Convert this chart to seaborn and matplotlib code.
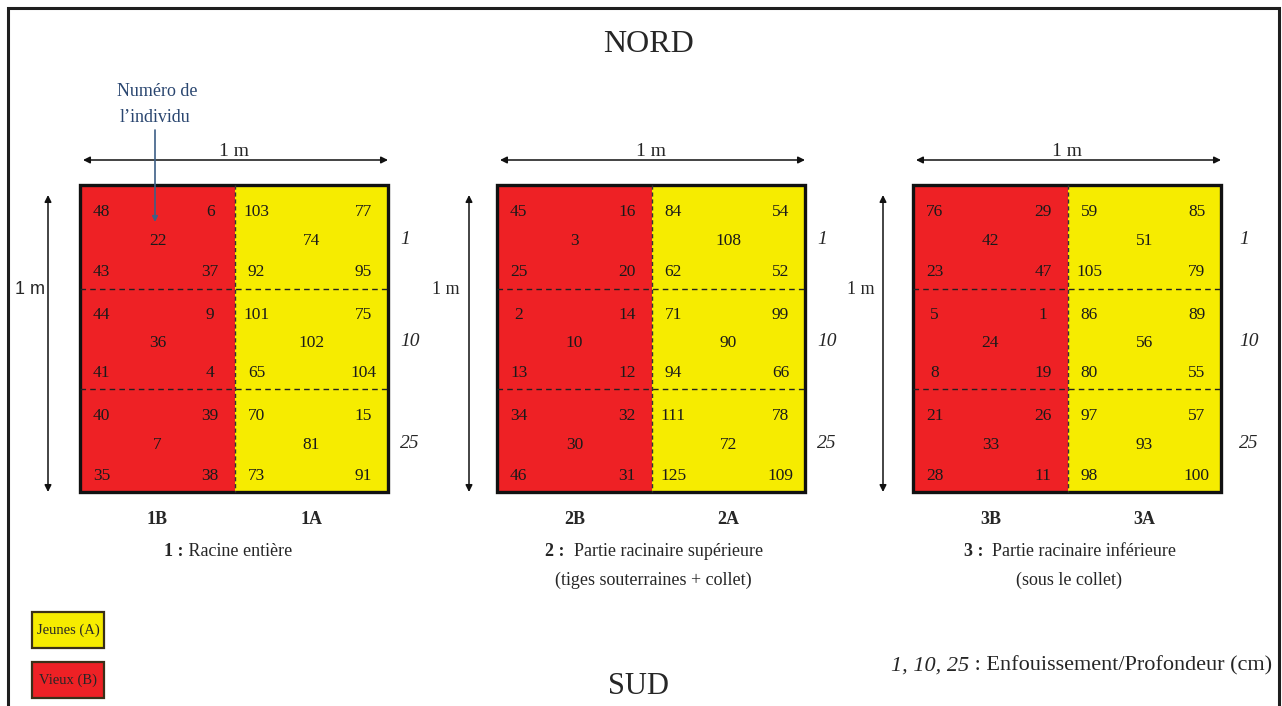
import matplotlib
matplotlib.use("Agg")
import matplotlib.pyplot as plt
import seaborn as sns
from matplotlib.patches import Rectangle

# ---------------- data ----------------
plot_ids = ["1", "2", "3"]
half_labels_B = ["1B", "2B", "3B"]
half_labels_A = ["1A", "2A", "3A"]
depth_labels = ["1", "10", "25"]
captions_bold = ["1 :", "2 :", "3 :"]
captions_line1 = [" Racine entière", "  Partie racinaire supérieure", "  Partie racinaire inférieure"]
captions_line2 = ["", "(tiges souterraines + collet)", "(sous le collet)"]
# each row: [top-left, top-right, centre, bottom-left, bottom-right] per depth (1, 10, 25)
plot1_B = [[48, 6, 22, 43, 37], [44, 9, 36, 41, 4], [40, 39, 7, 35, 38]]
plot1_A = [[103, 77, 74, 92, 95], [101, 75, 102, 65, 104], [70, 15, 81, 73, 91]]
plot2_B = [[45, 16, 3, 25, 20], [2, 14, 10, 13, 12], [34, 32, 30, 46, 31]]
plot2_A = [[84, 54, 108, 62, 52], [71, 99, 90, 94, 66], [111, 78, 72, 125, 109]]
plot3_B = [[76, 29, 42, 23, 47], [5, 1, 24, 8, 19], [21, 26, 33, 28, 11]]
plot3_A = [[59, 85, 51, 105, 79], [86, 89, 56, 80, 55], [97, 57, 93, 98, 100]]
legend_labels = ["Jeunes (A)", "Vieux (B)"]
depth_note = "1, 10, 25"
depth_note_rest = " : Enfouissement/Profondeur (cm)"

# ---------------- style ----------------
sns.set_theme(style="white")
plt.rcParams['font.family'] = ['Liberation Serif', 'DejaVu Serif']
RED = "#ee2125"
YELLOW = "#f6ec00"
W, H = 1282, 706

fig = plt.figure(figsize=(W / 100, H / 100), dpi=100)
ax = fig.add_axes([0, 0, 1, 1])
ax.set_xlim(0, W)
ax.set_ylim(H, 0)
ax.axis("off")

# outer frame (no bottom edge)
ax.plot([8, 8, 1279, 1279], [706, 8, 8, 706], color="#1e1e1e", lw=2.2, solid_joinstyle="miter")

ax.text(649, 45, "NORD", ha="center", va="center", fontsize=23)
ax.text(638, 687, "SUD", ha="center", va="center", fontsize=22)

fig.canvas.draw()
renderer = fig.canvas.get_renderer()


def text_parts(x, y, parts, ha="center"):
    """parts: list of (string, dict of text props). Draw in sequence, aligned."""
    arts = []
    for s, kw in parts:
        t = ax.text(0, y, s, ha="left", va="center", **kw)
        arts.append(t)
    widths = []
    for t in arts:
        bb = t.get_window_extent(renderer=renderer)
        widths.append(bb.width)
    total = sum(widths)
    if ha == "center":
        x0 = x - total / 2
    elif ha == "right":
        x0 = x - total
    else:
        x0 = x
    for t, w in zip(arts, widths):
        t.set_x(x0)
        x0 += w


lefts = [80, 497, 913]
size = 308
half = 155
top = 185
rows = [185, 289, 389, 492]
col_frac = [0.14, 0.84, 0.50, 0.14, 0.84]
row_frac = [0.26, 0.26, 0.54, 0.84, 0.84]
data_B = [plot1_B, plot2_B, plot3_B]
data_A = [plot1_A, plot2_A, plot3_A]
vert_arrow_dx = [32, 28, 30]
one_m_left_x = [30, 446, 861]
depth_dx = [12, 12, 18]

for i, L in enumerate(lefts):
    R = L + size
    mid = L + half
    ax.add_patch(Rectangle((L, top), half, size - 1, facecolor=RED, edgecolor="none"))
    ax.add_patch(Rectangle((mid, top), size - half, size - 1, facecolor=YELLOW, edgecolor="none"))
    # dashed dividers
    for yy in rows[1:3]:
        ax.plot([L, R], [yy, yy], color="#222", lw=1.0, ls=(0, (4, 3)))
    ax.plot([mid, mid], [top, rows[-1]], color="#333", lw=1.0, ls=(0, (3, 2)))
    ax.add_patch(Rectangle((L, top), size, rows[-1] - top, facecolor="none", edgecolor="#111", lw=2.4))

    # numbers
    for half_data, hx, hw in ((data_B[i], L, half), (data_A[i], mid, size - half)):
        for r, row in enumerate(half_data):
            y0, y1 = rows[r], rows[r + 1]
            for k, num in enumerate(row):
                ax.text(hx + col_frac[k] * hw, y0 + row_frac[k] * (y1 - y0), str(num),
                        ha="center", va="center", fontsize=12.5, color="#1a1a1a")
    # depth labels
    for r, lab in enumerate(depth_labels):
        ax.text(R + depth_dx[i], (rows[r] + rows[r + 1]) / 2 + 3, lab, ha="left", va="center",
                fontsize=14, style="italic")

    # horizontal arrow + label
    ax.annotate("", xy=(L + 3, 160), xytext=(R, 160),
                arrowprops=dict(arrowstyle="<|-|>", color="#111", lw=1.1,
                                mutation_scale=10, shrinkA=0, shrinkB=0))
    ax.text(L + size / 2, 151, "1 m", ha="center", va="center", fontsize=14)
    # vertical arrow + label
    vx = L - vert_arrow_dx[i]
    ax.annotate("", xy=(vx, 195), xytext=(vx, rows[-1]),
                arrowprops=dict(arrowstyle="<|-|>", color="#111", lw=1.1,
                                mutation_scale=10, shrinkA=0, shrinkB=0))
    fam = "Liberation Sans" if i == 0 else "Liberation Serif"
    ax.text(one_m_left_x[i], 290, "1 m", ha="center", va="center", fontsize=13, family=fam)

    # half labels
    ax.text(L + half / 2, 519, half_labels_B[i], ha="center", va="center", fontsize=13, weight="bold")
    ax.text(mid + (size - half) / 2, 519, half_labels_A[i], ha="center", va="center", fontsize=13, weight="bold")

    # captions
    cx = 228 if i == 0 else L + size / 2 + 3
    text_parts(cx, 552, [(captions_bold[i], dict(fontsize=13, weight="bold")),
                         (captions_line1[i], dict(fontsize=13))])
    if captions_line2[i]:
        ax.text(L + size / 2 + 2, 580, captions_line2[i], ha="center", va="center", fontsize=13)

# individual-number annotation
ax.text(157, 92, "Numéro de", ha="center", va="center", fontsize=13, color="#2a4670")
ax.text(155, 118, "l\u2019individu", ha="center", va="center", fontsize=13, color="#2a4670")
ax.annotate("", xy=(155, 222), xytext=(155, 130),
            arrowprops=dict(arrowstyle="-|>", color="#3d5f86", lw=1.2,
                            mutation_scale=8, shrinkA=0, shrinkB=0))

# legend boxes
ax.add_patch(Rectangle((32, 612), 72, 36, facecolor=YELLOW, edgecolor="#3a3018", lw=1.6))
ax.text(68, 630, legend_labels[0], ha="center", va="center", fontsize=10.5)
ax.add_patch(Rectangle((32, 662), 72, 36, facecolor=RED, edgecolor="#3a3018", lw=1.6))
ax.text(68, 680, legend_labels[1], ha="center", va="center", fontsize=10.5)

# depth note
text_parts(1272, 666, [(depth_note, dict(fontsize=16, style="italic")),
                       (depth_note_rest, dict(fontsize=16))], ha="right")

fig.savefig("out.png", dpi=100)
